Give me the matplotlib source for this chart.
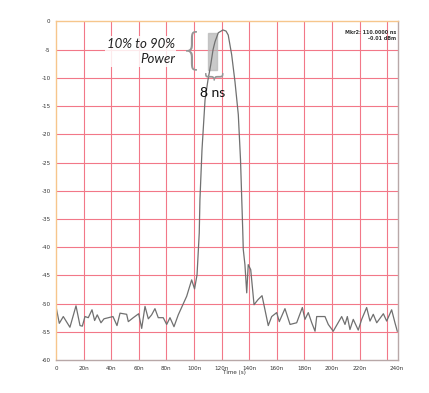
import numpy as np
import matplotlib
matplotlib.use("Agg")
import matplotlib.pyplot as plt
from matplotlib.transforms import ScaledTranslation

# Trace data (time in ns, power in dBm)
time_ns = [0, 2.4, 5.3, 10.1, 14.5, 17.4, 19.1, 21.0, 23.4, 26.1, 28.0, 29.9, 32.6, 34.8,
           41.3, 44.2, 46.4, 51.2, 52.4, 56.0, 59.9, 62.1, 64.5, 66.9, 69.3, 71.7, 74.1,
           77.7, 80.2, 82.6, 85.5, 88.6, 94.7, 98.3, 100.4, 102.2, 103.8, 104.3, 105.8,
           108.0, 110.1, 112.1, 113.8, 115.2, 117.6, 121.0, 123.2, 124.8, 127.3, 129.7,
           132.1, 133.7, 135.3, 135.7, 136.9, 138.2, 139.3, 141.1, 143.5, 146.4, 149.3,
           153.8, 156.3, 159.9, 161.8, 165.9, 169.6, 174.4, 178.5, 180.4, 182.8, 185.3,
           187.7, 188.9, 194.9, 197.3, 200.9, 207.0, 209.4, 211.1, 213.0, 215.4, 219.0,
           221.5, 225.1, 227.5, 229.9, 232.4, 237.2, 239.6, 243.2, 245.6, 247.3]
power_dbm = [-50.5, -53.5, -52.3, -54.2, -50.4, -53.9, -54.0, -52.3, -52.5, -51.1, -53.0,
             -52.0, -53.4, -52.7, -52.3, -53.9, -51.7, -51.9, -53.2, -52.5, -51.8, -54.4,
             -50.5, -52.7, -52.0, -50.9, -52.5, -52.5, -53.7, -52.5, -54.1, -52.0, -48.7,
             -45.8, -47.4, -44.9, -37.5, -31.6, -22.7, -13.9, -10.4, -7.7, -5.0, -3.6,
             -2.0, -1.5, -1.7, -2.4, -5.9, -10.7, -16.5, -24.5, -36.9, -40.4, -43.1, -48.1,
             -43.1, -44.0, -50.2, -49.3, -48.6, -53.9, -52.3, -51.6, -53.2, -50.9, -53.7,
             -53.4, -50.7, -52.8, -51.6, -53.4, -54.9, -52.3, -52.3, -53.7, -54.9, -52.3,
             -53.7, -52.3, -54.6, -52.8, -54.7, -52.8, -50.7, -53.1, -51.9, -53.4, -51.8,
             -53.1, -51.1, -53.4, -54.9]

x_ticks = [0, 20, 40, 60, 80, 100, 120, 140, 160, 180, 200, 220, 240]
x_tick_labels = ["0", "20n", "40n", "60n", "80n", "100n", "120n", "140n", "160n",
                 "180n", "200n", "220n", "240n"]
y_ticks = [0, -5, -10, -15, -20, -25, -30, -35, -40, -45, -50, -55, -60]
y_tick_labels = ["0", "-5", "-10", "-15", "-20", "-25", "-30", "-35", "-40", "-45",
                 "-50", "-55", "-60"]
rise_label = "10% to 90%\nPower"
rise_time_label = "8 ns"
marker_label = "Mkr2: 110.0000 ns\n-0.01 dBm"
x_label = "Time (s)"

fig = plt.figure(figsize=(4.29, 3.93), dpi=100)
ax = fig.add_axes([0.1305, 0.084, 0.7972, 0.8613])
ax.set_xlim(0, 247.8)
ax.set_ylim(-60, 0)

grid_c = "#f27888"
for xv in x_ticks[1:]:
    ax.axvline(xv, color=grid_c, lw=0.8, zorder=1)
for yv in y_ticks[1:-1]:
    ax.axhline(yv, color=grid_c, lw=0.8, zorder=1)

ax.plot(time_ns, power_dbm, color="#707070", lw=0.9, zorder=4)

ax.set_xticks(x_ticks)
ax.set_xticklabels(x_tick_labels)
ax.set_yticks(y_ticks)
ax.set_yticklabels(y_tick_labels)
ax.tick_params(length=0, labelsize=4.1, colors="#333333", pad=4)
lbls = ax.get_xticklabels()
lbls[-1].set_transform(lbls[-1].get_transform() + ScaledTranslation(9/100, 0, fig.dpi_scale_trans))
ax.set_xlabel(x_label, fontsize=4.1, color="#333333", labelpad=1.5)
ax.xaxis.set_label_coords((234 - 56) / 342, -0.03)

for s in ["left", "top"]:
    ax.spines[s].set_color("#f6c68c")
for s in ["right", "bottom"]:
    ax.spines[s].set_color("#b8a8a8")
for s in ax.spines.values():
    s.set_linewidth(1.0)
    s.set_zorder(5)

# annotations
ax.text(0.348, 0.911, rise_label, transform=ax.transAxes, ha="right", va="center",
        fontsize=9.5, style="italic", family="Lato", color="#222222", linespacing=1.35,
        zorder=6, bbox=dict(facecolor="white", edgecolor="none", alpha=0.85, pad=1))
ax.axvspan(110.5, 116.8, ymin=1 - 8.6/60, ymax=1 - 2.0/60, color="#b8b8b8", alpha=0.75, zorder=3)
ax.text(0.398, 0.913, "{", transform=ax.transAxes, ha="center", va="center",
        fontsize=30, color="#959595", family="DejaVu Sans", fontweight="light", zorder=6)
ax.text(0.459, 0.845, "{", transform=ax.transAxes, ha="center", va="center", rotation=90,
        fontsize=14, color="#959595", family="DejaVu Sans", zorder=6)
ax.text(0.459, 0.789, rise_time_label, transform=ax.transAxes, ha="center", va="center",
        fontsize=10, family="Lato", color="#111111", zorder=6)
ax.text(0.995, 0.975, marker_label, transform=ax.transAxes, ha="right", va="top",
        fontsize=3.5, color="#333333", fontweight="bold", linespacing=1.3, zorder=6)

fig.savefig("out.png", dpi=100)
